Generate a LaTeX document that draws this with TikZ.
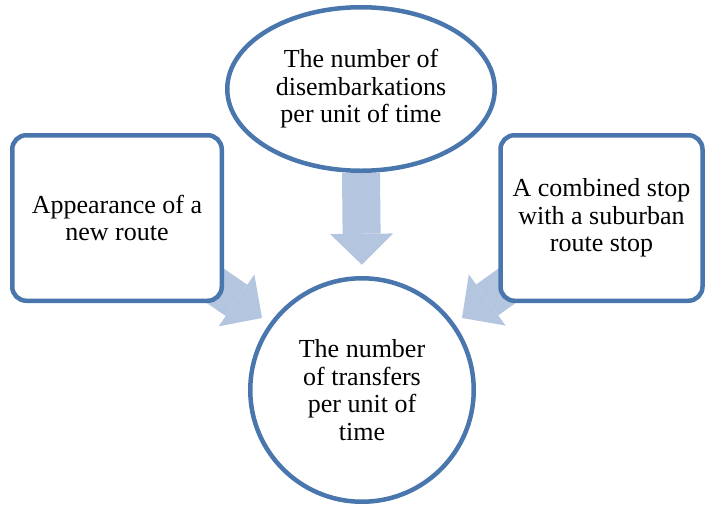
\documentclass[tikz,border=0pt]{standalone}
\usepackage{fontspec}
\setmainfont{Liberation Serif}
\usetikzlibrary{shapes.geometric,arrows.meta,calc}
\definecolor{edgeblue}{RGB}{74,118,174}
\definecolor{arrowfill}{RGB}{180,197,223}
\pgfdeclarelayer{background}
\pgfsetlayers{background,main}
\begin{document}
\begin{tikzpicture}[x=1pt,y=-1pt,
  shapebox/.style={draw=edgeblue, line width=4.5pt, fill=white, align=center, inner sep=0pt, font=\fontsize{26}{27.5}\selectfont},
  blockarrow/.style={draw=arrowfill, line width=38pt, -{Triangle[width=63pt,length=31pt,line width=0pt]}}
]
\useasboundingbox (0,0) rectangle (705,504);
\node[shapebox, ellipse, minimum width=267.5pt, minimum height=163.5pt] (top) at (361,89) {The number of\\disembarkations\\per unit of time};
\node[shapebox, circle, minimum size=223.5pt] (bot) at (362,390) {The number\\of transfers\\per unit of\\time};
\node[shapebox, rectangle, rounded corners=14pt, minimum width=209.5pt, minimum height=165.5pt] (left) at (117,218) {Appearance of a\\new route};
\node[shapebox, rectangle, rounded corners=14pt, minimum width=202pt, minimum height=165.5pt] (right) at (601.5,218) {A combined stop\\with a suburban\\route stop};
\coordinate (ltip) at (262,318);
\coordinate (rtip) at (462,318);
\begin{pgfonlayer}{background}
\draw[blockarrow, shorten >=11.25pt] (top.south) -- (bot.north);
\draw[blockarrow] (left.center) -- (ltip);
\draw[blockarrow] (right.center) -- (rtip);
\end{pgfonlayer}
\end{tikzpicture}
\end{document}
